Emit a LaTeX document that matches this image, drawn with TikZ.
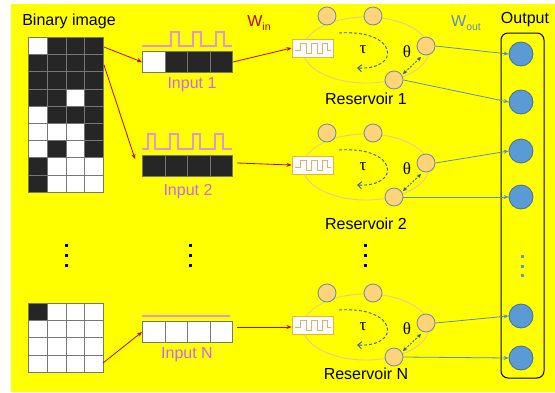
\documentclass[tikz,border=0pt]{standalone}
\usepackage{fontspec}
\setmainfont{Liberation Sans}
\newfontfamily\grk{Liberation Serif}
\usetikzlibrary{arrows.meta}
\definecolor{bg}{HTML}{FFFF00}
\definecolor{arrred}{HTML}{C00000}
\definecolor{violet1}{HTML}{CC66EE}
\definecolor{pulse}{HTML}{E296D6}
\definecolor{cellblk}{HTML}{262626}
\definecolor{cellbrd}{HTML}{767676}
\definecolor{neufill}{HTML}{FFD37A}
\definecolor{neudraw}{HTML}{6A8AAE}
\definecolor{ringc}{HTML}{E6C896}
\definecolor{dashblue}{HTML}{2F5C99}
\definecolor{outfill}{HTML}{5B9BD5}
\definecolor{outdraw}{HTML}{41719C}
\definecolor{wline}{HTML}{5B8BC8}
\definecolor{boxorange}{HTML}{F0B040}
\definecolor{wavec}{HTML}{DDB070}
\tikzset{
  cW/.style={draw=cellbrd,line width=1pt,fill=white,minimum width=18.75pt,minimum height=17.2pt,inner sep=0pt,anchor=north west},
  cB/.style={cW,fill=cellblk},
  barw/.style={draw=cellbrd,line width=1pt,fill=white,minimum width=22.5pt,minimum height=21pt,inner sep=0pt,anchor=north west},
  barb/.style={barw,fill=cellblk},
  neuron/.style={circle,draw=neudraw,line width=0.8pt,fill=neufill,minimum size=18pt,inner sep=0pt},
  outn/.style={circle,draw=outdraw,line width=0.8pt,fill=outfill,minimum size=24pt,inner sep=0pt},
  redarr/.style={draw=arrred,line width=0.8pt,-{Stealth[length=5pt,width=4pt]}},
  warr/.style={draw=wline,line width=0.8pt,-{Stealth[length=5pt,width=4pt]}},
  inlab/.style={text=violet1,font=\fontsize{16}{19}\selectfont},
  reslab/.style={font=\fontsize{16}{19}\selectfont},
  title/.style={font=\fontsize{16}{19}\selectfont},
  pulseline/.style={draw=pulse,line width=1.1pt},
  inbox/.style={draw=boxorange,line width=1pt,fill=white,minimum width=41pt,minimum height=18pt,inner sep=0pt},
  dotk/.style={fill=black,minimum size=3pt,inner sep=0pt},
  dotb/.style={fill=outfill,minimum size=3pt,inner sep=0pt},
}
\begin{document}
\begin{tikzpicture}[x=1pt,y=-1pt]
\useasboundingbox (0,0) rectangle (555,392);
\fill[bg] (11,4) rectangle (555,392);

% titles
\node[title] (tbin) at (69,21) {Binary image};
\node[title] (tout) at (525,20) {Output};
\node[text=arrred,font=\fontsize{16}{19}\selectfont] (win) at (259,23) {W\raisebox{-0.45ex}{\fontsize{10.5}{12}\selectfont in}};
\node[text=wline,font=\fontsize{16}{19}\selectfont] (wout) at (466,23) {W\raisebox{-0.45ex}{\fontsize{10.5}{12}\selectfont out}};

% binary image grid (9 rows x 4 cols)
\foreach \r/\p/\q/\s/\t in {0/W/B/B/B,1/B/B/B/B,2/B/B/B/B,3/B/B/W/B,4/W/B/B/B,5/W/W/W/B,6/W/B/W/B,7/B/W/W/W,8/B/W/W/W}{
  \node[c\p] (g\r a) at (28,37+17.2*\r) {};
  \node[c\q] (g\r b) at (46.75,37+17.2*\r) {};
  \node[c\s] (g\r c) at (65.5,37+17.2*\r) {};
  \node[c\t] (g\r d) at (84.25,37+17.2*\r) {};
}
% bottom grid 4x4
\foreach \r/\p in {0/B,1/W,2/W,3/W}{
  \node[c\p] (h\r a) at (28,303+17.2*\r) {};
  \node[cW] (h\r b) at (46.75,303+17.2*\r) {};
  \node[cW] (h\r c) at (65.5,303+17.2*\r) {};
  \node[cW] (h\r d) at (84.25,303+17.2*\r) {};
}

% input bars
\node[barw] (i1a) at (142,51) {};
\node[barb] (i1b) at (164.5,51) {};
\node[barb] (i1c) at (187,51) {};
\node[barb] (i1d) at (209.5,51) {};
\foreach \k/\xx in {a/142,b/164.5,c/187,d/209.5}{
  \node[barb] (i2\k) at (\xx,155) {};
  \node[barw] (iN\k) at (\xx,321) {};
}
\node[inlab] (l1) at (192,85) {Input 1};
\node[inlab] (l2) at (188,192) {Input 2};
\node[inlab] (lN) at (187,355) {Input N};

% pulses
\draw[pulseline] (142,46)--(171,46)--(171,32)--(179,32)--(179,46)--(193,46)--(193,32)--(201,32)--(201,46)--(216,46)--(216,32)--(224,32)--(224,46)--(232,46);
\draw[pulseline] (142,149)--(148,149)--(148,134)--(155,134)--(155,149)--(170,149)--(170,134)--(178,134)--(178,149)--(193,149)--(193,134)--(200,134)--(200,149)--(215,149)--(215,134)--(223,134)--(223,149)--(232,149);
\draw[pulseline] (142,316)--(230,316);

% dots
\foreach \xx in {66,190,365}{
  \foreach \yy in {245,255,265}{
    \node[dotk] at (\xx,\yy) {};
  }
}
\foreach \yy in {256,266,275}{
  \node[dotb] at (522,\yy) {};
}

% red arrows from image to inputs
\coordinate (s1) at (104,47);
\coordinate (s2) at (104,65);
\coordinate (sN) at (103,363);
\coordinate (e2) at (135,159);
\draw[redarr] (s1) -- (i1a.west);
\draw[redarr] (s2) -- (e2);
\draw[redarr] (sN) -- (iNa.west);

% reservoirs
\foreach \i/\dy/\ly/\lab in {1/0/99/Reservoir 1,2/117/224/Reservoir 2,N/277/374/Reservoir N}{
  \draw[ringc,line width=0.9pt] (366,50+\dy) ellipse [x radius=63, y radius=33];
  \node[inbox] (b\i) at (312.5,48+\dy) {};
  \draw[wavec,line width=0.9pt] (295,50+\dy)--(300,50+\dy)--(300,43+\dy)--(306,43+\dy)--(306,53+\dy)--(311,53+\dy)--(311,43+\dy)--(317,43+\dy)--(317,53+\dy)--(322,53+\dy)--(322,43+\dy)--(327,43+\dy)--(327,50+\dy)--(331,50+\dy);
  \node[neuron] (r\i a) at (327,16+\dy) {};
  \node[neuron] (r\i b) at (373,16+\dy) {};
  \node[neuron] (r\i c) at (426,46+\dy) {};
  \node[neuron] (r\i d) at (394,80+\dy) {};
  \draw[dashblue,line width=0.9pt,dash pattern=on 3pt off 2pt,-{Straight Barb[length=4pt,width=7pt]}] (339,33+\dy) .. controls (398,29+\dy) and (402,70+\dy) .. (357,68+\dy);
  \node[font=\grk\fontsize{17}{19}\selectfont] (tau\i) at (363,50+\dy) {τ};
  \node[font=\grk\fontsize{17}{19}\selectfont] (th\i) at (407,52+\dy) {θ};
  \coordinate (ta\i) at (421,57+\dy);
  \coordinate (tb\i) at (403,74+\dy);
  \draw[dashblue,line width=0.9pt,dash pattern=on 2pt off 1.5pt,{Stealth[length=4pt,width=4pt]}-{Stealth[length=4pt,width=4pt]}] (ta\i) -- (tb\i);
  \node[reslab] (rl\i) at (366,\ly) {\lab};
}

% arrows from inputs to reservoirs
\draw[redarr] (i1d.east) -- (b1.west);
\coordinate (a2s) at (237,163);
\coordinate (aNs) at (237,327);
\draw[redarr] (a2s) -- (b2.west);
\draw[redarr] (aNs) -- (bN.west |- aNs);

% output box and nodes
\draw[black,line width=1pt,rounded corners=7pt] (501,33) rectangle (544,378);
\node[outn] (o1) at (521,54) {};
\node[outn] (o2) at (521,102) {};
\node[outn] (o3) at (521,151) {};
\node[outn] (o4) at (521,197) {};
\node[outn] (o5) at (521,316) {};
\node[outn] (o6) at (521,358) {};

\draw[warr] (r1c.east) -- (o1.west);
\draw[warr] (r1d.east) -- (o2.west);
\draw[warr] (r2c.east) -- (o3.west);
\draw[warr] (r2d.east) -- (o4.west);
\draw[warr] (rNc.east) -- (o5.west);
\draw[warr] (rNd.east) -- (o6.west);
\end{tikzpicture}
\end{document}
